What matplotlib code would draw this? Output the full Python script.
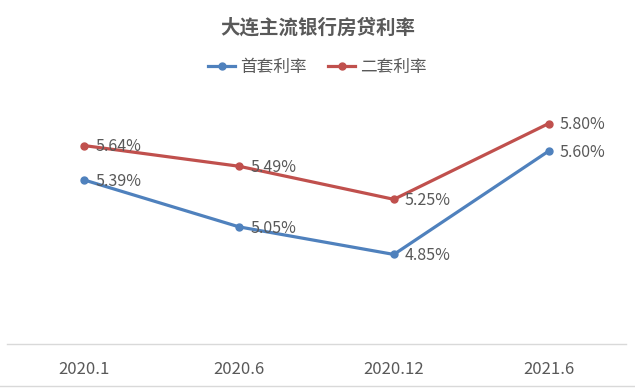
import matplotlib
matplotlib.use("Agg")
import matplotlib.pyplot as plt

plt.rcParams['font.family'] = ['Noto Sans CJK SC', 'DejaVu Sans']

categories = ["2020.1", "2020.6", "2020.12", "2021.6"]
first_home = [5.39, 5.05, 4.85, 5.60]
second_home = [5.64, 5.49, 5.25, 5.80]
series_names = ["首套利率", "二套利率"]
title = "大连主流银行房贷利率"

blue = "#4F81BD"
red = "#C0504D"
txt = "#595959"

fig = plt.figure(figsize=(6.35, 3.88), dpi=100)
ax = fig.add_axes([7/635, 44/388, 619/635, 248/388])
x = list(range(len(categories)))
ax.plot(x, first_home, color=blue, lw=2.3, marker='o', ms=5, label=series_names[0], zorder=3)
ax.plot(x, second_home, color=red, lw=2.3, marker='o', ms=5, label=series_names[1], zorder=3)

for xi, v in zip(x, first_home):
    ax.annotate(f"{v:.2f}%", (xi, v), xytext=(8, -1), textcoords='offset points',
                va='center', ha='left', fontsize=11.5, color=txt)
for xi, v in zip(x, second_home):
    ax.annotate(f"{v:.2f}%", (xi, v), xytext=(8, -1), textcoords='offset points',
                va='center', ha='left', fontsize=11.5, color=txt)

ax.set_xlim(-0.5, len(categories) - 0.5)
ax.set_ylim(4.2, 6.0)
ax.set_yticks([])
ax.set_xticks(x)
ax.set_xticklabels(categories, fontsize=12, color=txt)
ax.tick_params(axis='x', length=0, pad=12)
for s in ['top', 'left', 'right']:
    ax.spines[s].set_visible(False)
ax.spines['bottom'].set_color('#D9D9D9')
ax.spines['bottom'].set_linewidth(1)

fig.text(0.5, 1 - 28/388, title, ha='center', va='center', fontsize=14,
         fontweight='bold', color=txt)
fig.legend(loc='center', bbox_to_anchor=(0.5, 1 - 67/388), ncol=2, frameon=False,
           fontsize=12, labelcolor=txt, handlelength=1.6, columnspacing=1.3,
           handletextpad=0.3)

fig.add_artist(plt.Line2D([0, 1], [2/388, 2/388], color='#D9D9D9', lw=1,
                          transform=fig.transFigure))

fig.savefig("out.png", dpi=100)
